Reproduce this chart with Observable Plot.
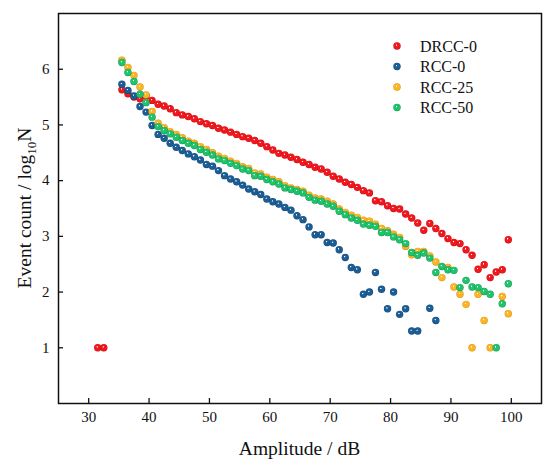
<!DOCTYPE html>
<html><head><meta charset="utf-8">
<script src="https://cdn.jsdelivr.net/npm/d3@7"></script>
<script src="https://cdn.jsdelivr.net/npm/@observablehq/plot@0.6"></script>
<style>body{margin:0;background:#fff}#chart{width:550px;height:466px}</style>
</head><body><div id="chart"></div>
<script>
// Amplitude bin centres (dB)
const amplitude = [31.5,32.5,33.5,34.5,35.5,36.5,37.5,38.5,39.5,40.5,41.5,42.5,43.5,44.5,45.5,46.5,47.5,48.5,49.5,
  50.5,51.5,52.5,53.5,54.5,55.5,56.5,57.5,58.5,59.5,60.5,61.5,62.5,63.5,64.5,65.5,66.5,67.5,68.5,69.5,
  70.5,71.5,72.5,73.5,74.5,75.5,76.5,77.5,78.5,79.5,80.5,81.5,82.5,83.5,84.5,85.5,86.5,87.5,88.5,89.5,
  90.5,91.5,92.5,93.5,94.5,95.5,96.5,97.5,98.5,99.5];

const seriesNames = ["DRCC-0","RCC-0","RCC-25","RCC-50"];
const seriesColors = ["#f2161d","#1b5d95","#fab424","#1dc46b"];
const seriesDark = ["#c20c12","#124672","#d99000","#119450"];

// log10 N values, aligned with amplitude (null = no point)
const drcc0 = [1,1,null,null,
  5.63,5.56,5.50,5.47,5.52,5.44,5.37,5.34,5.29,5.22,5.18,5.15,5.11,5.06,5.02,
  4.99,4.94,4.91,4.87,4.83,4.79,4.76,4.72,4.67,4.61,4.55,4.49,4.46,4.42,4.38,4.33,4.29,4.24,4.21,4.15,
  4.08,4.03,3.97,3.93,3.88,3.82,3.78,3.64,3.62,3.55,3.50,3.49,3.40,3.33,3.24,3.11,3.23,3.14,3.05,2.96,
  2.89,2.87,2.76,2.66,2.41,2.49,2.26,2.36,2.40,2.94];
const rcc0 = [null,null,null,null,
  5.73,5.62,5.52,5.33,5.23,4.99,4.83,4.76,4.67,4.60,4.54,4.48,4.43,4.37,4.29,
  4.26,4.18,4.09,4.03,3.98,3.92,3.85,3.80,3.75,3.67,3.62,3.58,3.52,3.47,3.37,3.30,3.17,3.03,3.03,2.89,
  2.88,2.76,2.62,2.44,2.40,1.96,2.00,2.35,2.05,1.70,2.00,1.60,1.70,1.30,1.30,null,1.71,1.49,null,null,
  null,null,null,null,null,null,null,null,null,null];
const rcc25 = [null,null,null,null,
  6.16,6.03,5.89,5.68,5.54,5.24,5.03,4.95,4.88,4.83,4.77,4.71,4.67,4.61,4.56,
  4.50,4.44,4.40,4.35,4.31,4.25,4.22,4.14,4.12,4.06,4.02,3.98,3.91,3.87,3.84,3.81,3.74,3.69,3.67,3.63,
  3.58,3.49,3.43,3.38,3.34,3.29,3.27,3.22,3.14,3.10,3.04,2.98,2.82,2.67,2.73,2.73,2.65,2.54,2.26,2.44,
  2.09,1.96,1.78,1.00,1.96,1.49,1.00,null,1.92,1.61];
const rcc50 = [null,null,null,null,
  6.12,5.94,5.78,5.55,5.40,5.14,4.97,4.90,4.84,4.78,4.72,4.67,4.63,4.56,4.51,
  4.46,4.39,4.36,4.31,4.27,4.21,4.18,4.09,4.08,4.02,3.98,3.94,3.87,3.84,3.81,3.78,3.70,3.65,3.63,3.58,
  3.54,3.45,3.39,3.33,3.29,3.22,3.20,3.18,3.07,3.07,2.99,2.94,2.87,2.71,2.66,2.70,2.61,2.35,2.46,2.40,
  2.39,2.08,2.21,2.09,2.08,2.01,1.96,1.00,1.79,2.15];

const xTicks = [30,40,50,60,70,80,90,100];
const yTicks = [1,2,3,4,5,6];

const allSeries = [drcc0, rcc0, rcc25, rcc50];
const tables = allSeries.map((vals, s) =>
  vals.map((v, i) => ({amp: amplitude[i], count: v, series: seriesNames[s]})).filter(d => d.count != null));

const font = "Liberation Serif, Times New Roman, DejaVu Serif, serif";
const R = 3.7;

const plot = Plot.plot({
  width: 550, height: 466,
  marginLeft: 58, marginRight: 9, marginTop: 13, marginBottom: 63,
  style: {fontFamily: font, fontSize: "15px", color: "#111", background: "#fff"},
  x: {domain: [25, 105], label: null},
  y: {domain: [0, 7], label: null},
  marks: [
    Plot.axisX({ticks: xTicks, tickFormat: "d", tickSize: -5, tickPadding: 13, label: null, fontSize: 15, fontFamily: font, strokeWidth: 1.3}),
    Plot.axisY({ticks: yTicks, tickFormat: "d", tickSize: -5, tickPadding: 14, label: null, fontSize: 15, fontFamily: font, strokeWidth: 1.3}),
    ...tables.map((t, s) => Plot.dot(t, {x: "amp", y: "count", r: R, fill: `url(#ball${s})`, stroke: "none"})),
    Plot.frame({stroke: "#111", strokeWidth: 1.5})
  ]
});

const svg = d3.select(plot);
const defs = svg.insert("defs", ":first-child");
seriesColors.forEach((c, s) => {
  const g = defs.append("radialGradient").attr("id", `ball${s}`)
    .attr("cx", "50%").attr("cy", "50%").attr("r", "50%").attr("fx", "40%").attr("fy", "36%");
  g.append("stop").attr("offset", "0%").attr("stop-color", "#ffffff");
  g.append("stop").attr("offset", "8%").attr("stop-color", "#ffffff").attr("stop-opacity", 0.95);
  g.append("stop").attr("offset", "26%").attr("stop-color", c);
  g.append("stop").attr("offset", "80%").attr("stop-color", c);
  g.append("stop").attr("offset", "100%").attr("stop-color", seriesDark[s]);
});

// Legend
const legendY = [46, 66.5, 87, 107.5];
const lg = svg.append("g").attr("font-family", font).attr("font-size", 16).attr("fill", "#111").attr("text-anchor", "start");
seriesNames.forEach((n, s) => {
  lg.append("circle").attr("cx", 397).attr("cy", legendY[s]).attr("r", R).attr("fill", `url(#ball${s})`);
  lg.append("text").attr("x", 420).attr("y", legendY[s]).attr("dy", "0.35em").attr("text-anchor", "start").text(n);
});

// Axis titles
svg.append("text").attr("x", 299.5).attr("y", 448).attr("dy", "0.35em")
  .attr("text-anchor", "middle").attr("font-family", font).attr("font-size", 19.5).attr("fill", "#111")
  .text("Amplitude / dB");
const yl = svg.append("text").attr("transform", "translate(24,208) rotate(-90)")
  .attr("text-anchor", "middle").attr("dy", "0.35em").attr("font-family", font).attr("font-size", 19.5).attr("fill", "#111");
yl.append("tspan").text("Event count / log");
yl.append("tspan").attr("font-size", 13).attr("dy", "5").text("10");
yl.append("tspan").attr("dy", "-5").text("N");

document.getElementById("chart").appendChild(plot);
</script>
</body></html>
